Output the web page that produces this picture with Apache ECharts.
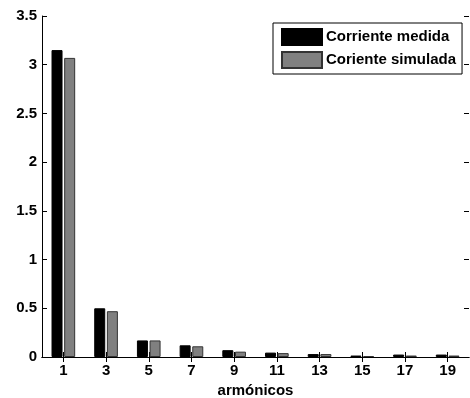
<!DOCTYPE html>
<html>
<head>
<meta charset="utf-8">
<script src="https://cdn.jsdelivr.net/npm/echarts@6/dist/echarts.min.js"></script>
<style>
  html, body { margin: 0; padding: 0; background: #fff; }
  #chart { width: 470px; height: 398px; }
</style>
</head>
<body>
<div id="chart"></div>
<script>
// Harmonic orders and current amplitudes
var harmonics = ['1', '3', '5', '7', '9', '11', '13', '15', '17', '19'];
var medida   = [3.15, 0.50, 0.17, 0.12, 0.07, 0.045, 0.03, 0.015, 0.025, 0.025];
var simulada = [3.07, 0.47, 0.17, 0.11, 0.055, 0.04, 0.03, 0.01, 0.015, 0.015];
var seriesNames = ['Corriente medida', 'Coriente simulada'];
var xTitle = 'armónicos';

var FONT = 'Liberation Sans, Arial, sans-serif';
var chart = echarts.init(document.getElementById('chart'), null, { renderer: 'canvas' });

var boxLine = { show: true, lineStyle: { color: '#000', width: 1 } };
var innerTick = { show: true, inside: true, length: 5, lineStyle: { color: '#000', width: 1 } };

chart.setOption({
  animation: false,
  backgroundColor: '#fff',
  grid: { left: 42, right: 1, top: 16, bottom: 41, containLabel: false, outerBoundsMode: 'none' },
  legend: {
    orient: 'vertical',
    left: 273, top: 23,
    padding: [5, 6, 5, 8],
    itemWidth: 40, itemHeight: 16, itemGap: 5,
    backgroundColor: '#fff',
    borderColor: '#000', borderWidth: 1,
    icon: 'rect',
    textStyle: { fontFamily: FONT, fontWeight: 'bold', fontSize: 15, color: '#000', padding: [0, 0, 0, -1] },
    data: seriesNames
  },
  xAxis: [
    {
      type: 'category',
      data: harmonics,
      position: 'bottom',
      axisLine: boxLine,
      axisTick: Object.assign({ alignWithLabel: true }, innerTick),
      axisLabel: { fontFamily: FONT, fontWeight: 'bold', fontSize: 15, color: '#000', margin: 6 },
      name: xTitle,
      nameLocation: 'middle',
      nameGap: 26,
      nameTextStyle: { fontFamily: FONT, fontWeight: 'bold', fontSize: 15, color: '#000' }
    },
    {
      type: 'category',
      data: harmonics,
      position: 'top',
      axisLine: boxLine,
      axisTick: Object.assign({ alignWithLabel: true }, innerTick),
      axisLabel: { show: false }
    }
  ],
  yAxis: [
    {
      type: 'value',
      min: 0, max: 3.5, interval: 0.5,
      position: 'left',
      axisLine: boxLine,
      axisTick: innerTick,
      splitLine: { show: false },
      axisLabel: { fontFamily: FONT, fontWeight: 'bold', fontSize: 15, color: '#000', margin: 5 }
    },
    {
      type: 'value',
      min: 0, max: 3.5, interval: 0.5,
      position: 'right',
      axisLine: { show: false },
      axisTick: innerTick,
      splitLine: { show: false },
      axisLabel: { show: false }
    }
  ],
  series: [
    {
      name: seriesNames[0],
      type: 'bar',
      data: medida,
      barWidth: 11,
      barGap: '15%',
      itemStyle: { color: '#000', borderColor: '#000', borderWidth: 1 }
    },
    {
      name: seriesNames[1],
      type: 'bar',
      data: simulada,
      barWidth: 11,
      barGap: '15%',
      itemStyle: { color: '#808080', borderColor: '#333', borderWidth: 1 }
    }
  ]
});
</script>
</body>
</html>
